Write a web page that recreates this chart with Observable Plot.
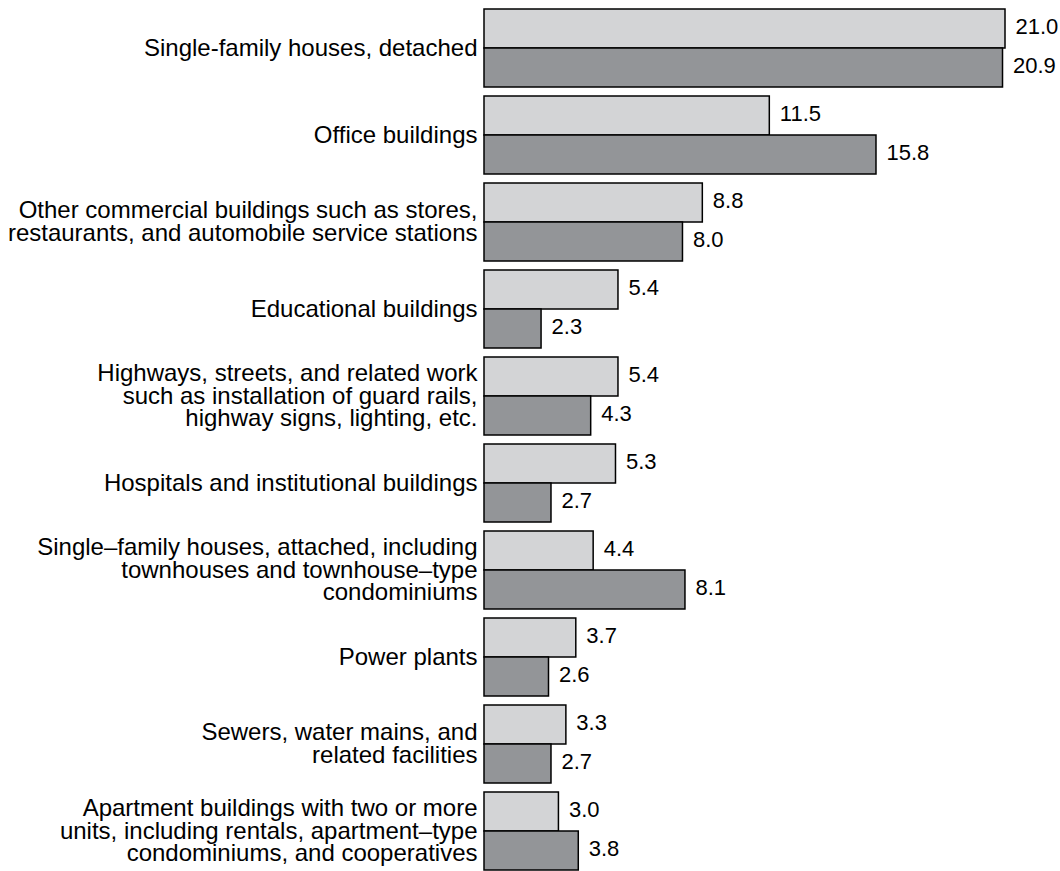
<!DOCTYPE html>
<html>
<head>
<meta charset="utf-8">
<script src="https://cdn.jsdelivr.net/npm/d3@7"></script>
<script src="https://cdn.jsdelivr.net/npm/@observablehq/plot@0.6"></script>
<style>
  html, body { margin: 0; padding: 0; background: #fff; }
  #chart svg { display: block; }
</style>
</head>
<body>
<div id="chart"></div>
<script>
const categories = [
  "Single-family houses, detached",
  "Office buildings",
  "Other commercial buildings such as stores,\nrestaurants, and automobile service stations",
  "Educational buildings",
  "Highways, streets, and related work\nsuch as installation of guard rails,\nhighway signs, lighting, etc.",
  "Hospitals and institutional buildings",
  "Single–family houses, attached, including\ntownhouses and townhouse–type\ncondominiums",
  "Power plants",
  "Sewers, water mains, and\nrelated facilities",
  "Apartment buildings with two or more\nunits, including rentals, apartment–type\ncondominiums, and cooperatives"
];
const seriesNames = ["Series 1", "Series 2"];
const series1 = [21.0, 11.5, 8.8, 5.4, 5.4, 5.3, 4.4, 3.7, 3.3, 3.0];
const series2 = [20.9, 15.8, 8.0, 2.3, 4.3, 2.7, 8.1, 2.6, 2.7, 3.8];
const seriesColors = ["#d3d4d6", "#939598"];

const data = [];
categories.forEach((c, i) => {
  data.push({category: c, series: seriesNames[0], value: series1[i]});
  data.push({category: c, series: seriesNames[1], value: series2[i]});
});

const chart = Plot.plot({
  width: 1060,
  height: 871,
  marginLeft: 484,
  marginRight: 55,
  marginTop: 8,
  marginBottom: -3,
  facet: {marginTop: 0, marginBottom: 0, marginLeft: 0, marginRight: 0},
  style: {fontFamily: "'Liberation Sans', Arial, sans-serif", fontSize: "22px", color: "#000", background: "#fff"},
  x: {domain: [0, 21], axis: null},
  y: {domain: seriesNames, padding: 0, axis: null},
  fy: {domain: categories, paddingInner: 0.1, paddingOuter: 0, label: null},
  color: {domain: seriesNames, range: seriesColors},
  marks: [
    Plot.axisFy({anchor: "left", tickSize: 0, tickPadding: 7, fontSize: 24, lineHeight: 0.93, label: null, fill: "#000"}),
    Plot.barX(data, {fy: "category", y: "series", x: "value", fill: "series", stroke: "#000", strokeWidth: 1.5}),
    Plot.text(data, {fy: "category", y: "series", x: "value", text: d => d.value.toFixed(1), dx: 10, dy: -2, textAnchor: "start", fill: "#000", fontSize: 22})
  ]
});
document.getElementById("chart").appendChild(chart);
</script>
</body>
</html>
